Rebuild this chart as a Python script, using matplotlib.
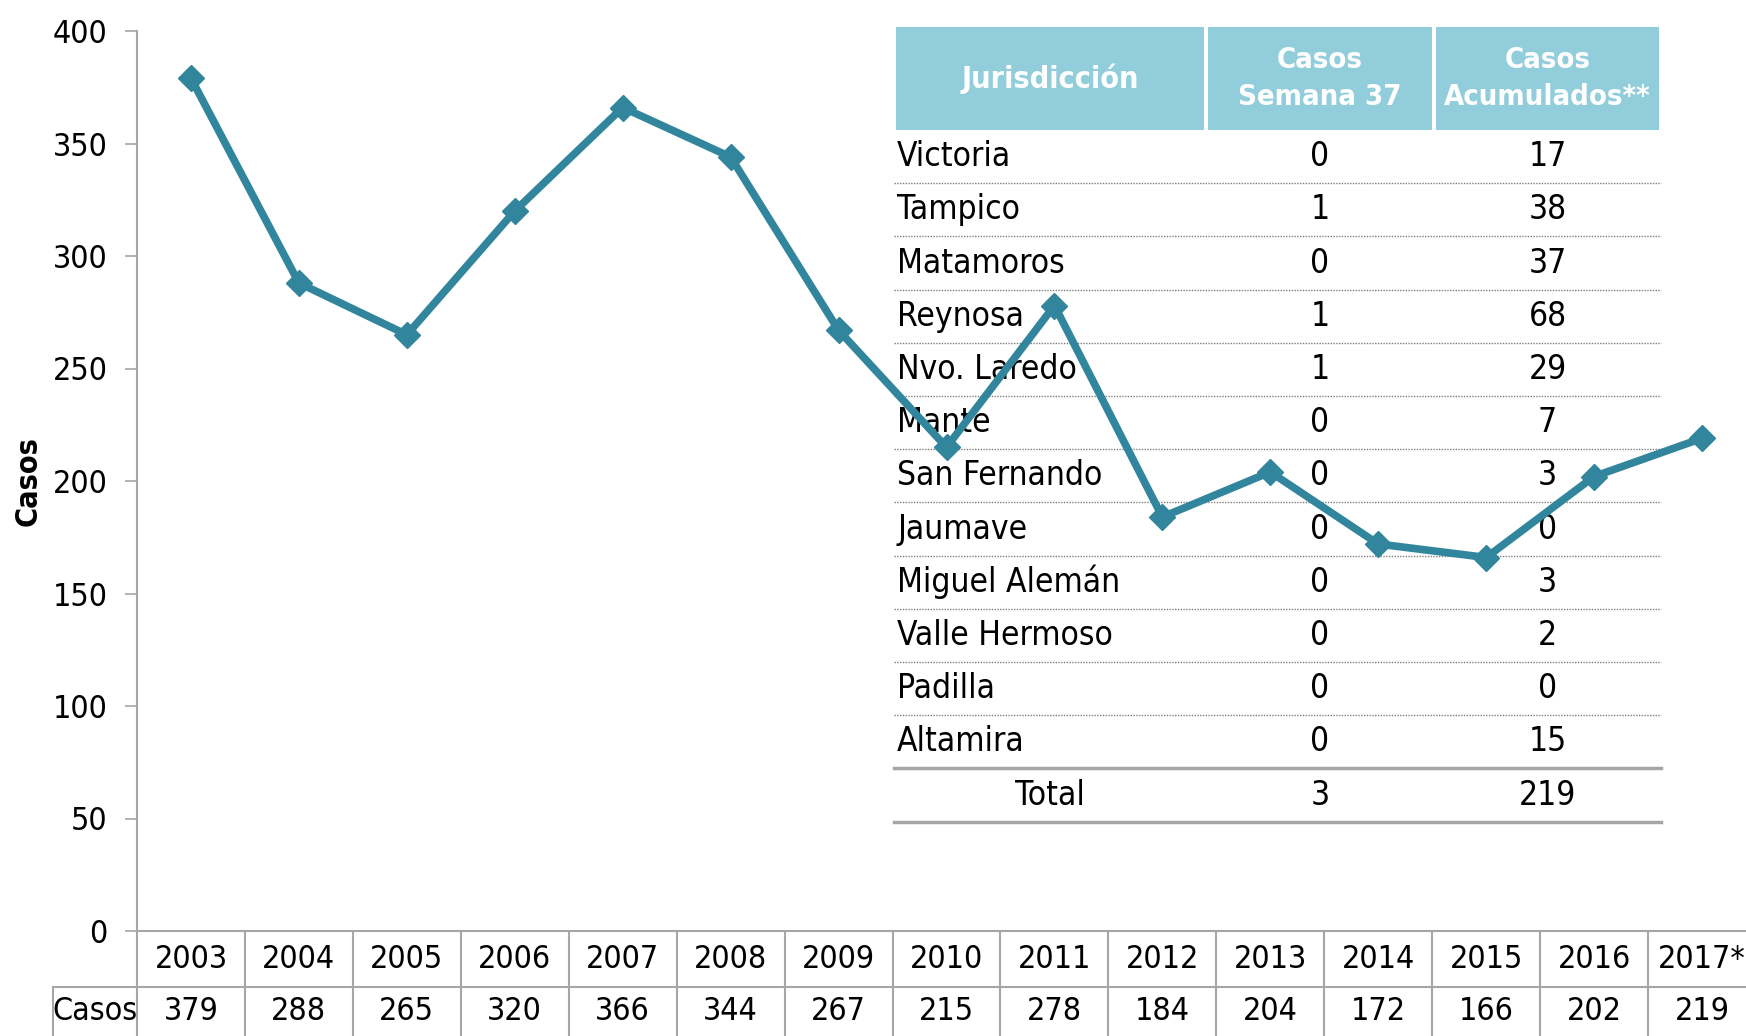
import matplotlib.pyplot as plt
from matplotlib import font_manager
from matplotlib.transforms import blended_transform_factory

# años y casos
YEARS = ["2003", "2004", "2005", "2006", "2007", "2008", "2009", "2010",
         "2011", "2012", "2013", "2014", "2015", "2016", "2017*"]
CASES = [379, 288, 265, 320, 366, 344, 267, 215, 278, 184, 204, 172, 166, 202, 219]

# tabla de jurisdicciones
JURIS = ["Victoria", "Tampico", "Matamoros", "Reynosa", "Nvo. Laredo", "Mante",
         "San Fernando", "Jaumave", "Miguel Alemán", "Valle Hermoso", "Padilla", "Altamira"]
WEEK37 = [0, 1, 0, 1, 1, 0, 0, 0, 0, 0, 0, 0]
ACUM = [17, 38, 37, 68, 29, 7, 3, 0, 3, 2, 0, 15]
TOTAL_WEEK = 3
TOTAL_ACUM = 219

LINE_COLOR = "#31859C"
HEAD_COLOR = "#92CDDC"
GRID_GRAY = "#A6A6A6"

names = [f.name for f in font_manager.fontManager.ttflist]
if "Liberation Sans Narrow" in names:
    plt.rcParams["font.family"] = ["Liberation Sans Narrow", "DejaVu Sans"]
else:
    plt.rcParams["font.family"] = ["DejaVu Sans"]
    plt.rcParams["font.stretch"] = "condensed"

W, H = 1746, 1036
fig = plt.figure(figsize=(W / 100, H / 100), dpi=100)
left, right, top, bottom = 137, 1756, 31, 931
ax = fig.add_axes([left / W, 1 - bottom / H, (right - left) / W, (bottom - top) / H])

x = list(range(len(YEARS)))
ax.plot(x, CASES, color=LINE_COLOR, lw=5.5, marker="D", ms=13, zorder=5, clip_on=False)
ax.set_xlim(-0.5, len(YEARS) - 0.5)
ax.set_ylim(0, 400)
ax.set_yticks(range(0, 401, 50))
ax.tick_params(axis="y", labelsize=23, length=9, width=1.2, color=GRID_GRAY, pad=12)
ax.set_xticks([])
for s in ["top", "right"]:
    ax.spines[s].set_visible(False)
for s in ["left", "bottom"]:
    ax.spines[s].set_color(GRID_GRAY)
    ax.spines[s].set_linewidth(1.5)
fig.text(28 / W, 1 - 481 / H, "Casos", rotation=90, fontsize=22, fontweight="bold",
         ha="center", va="center")

# tabla de datos bajo el eje
tr = blended_transform_factory(ax.transData, fig.transFigure)
row1 = 1 - 931 / H
row2 = 1 - 987 / H
for i in range(len(YEARS) + 1):
    ax.plot([i - 0.5, i - 0.5], [row1, 0], transform=tr, color=GRID_GRAY, lw=1.5, clip_on=False)
for i, (yr, c) in enumerate(zip(YEARS, CASES)):
    ax.text(i, (row1 + row2) / 2, yr, transform=tr, ha="center", va="center", fontsize=23)
    ax.text(i, row2 / 2, str(c), transform=tr, ha="center", va="center", fontsize=23)
fig.add_artist(plt.Line2D([53 / W, 1], [row2, row2], color=GRID_GRAY, lw=1.5))
fig.add_artist(plt.Line2D([53 / W, 53 / W], [row2, 0], color=GRID_GRAY, lw=1.5))
fig.text(95 / W, row2 / 2, "Casos", ha="center", va="center", fontsize=23)

# tabla de jurisdicciones (coordenadas de eje)
def fy(py):
    return (bottom - py) / (bottom - top)

def fx(px):
    return (px - left) / (right - left)

t_left, c1, c2, t_right = fx(894), fx(1206), fx(1434), fx(1661)
head_top, head_bot = fy(27), fy(130)
rh = fy(130) - fy(183.2)
ta = ax.transAxes
gap = 2 / (right - left)
for x0, x1 in [(t_left, c1), (c1, c2), (c2, t_right)]:
    ax.add_patch(plt.Rectangle((x0 + gap, head_bot), x1 - x0 - 2 * gap, head_top - head_bot,
                               transform=ta, facecolor=HEAD_COLOR, edgecolor="none",
                               clip_on=False, zorder=3))
hy = (head_top + head_bot) / 2
ax.text((t_left + c1) / 2, hy, "Jurisdicción", transform=ta, ha="center", va="center",
        fontsize=22, fontweight="bold", color="white", zorder=4)
ax.text((c1 + c2) / 2, hy, "Casos\nSemana 37", transform=ta, ha="center", va="center",
        fontsize=21, fontweight="bold", color="white", zorder=4, linespacing=1.4)
ax.text((c2 + t_right) / 2, hy, "Casos\nAcumulados**", transform=ta, ha="center", va="center",
        fontsize=21, fontweight="bold", color="white", zorder=4, linespacing=1.4)

for k, (name, w, a) in enumerate(zip(JURIS, WEEK37, ACUM)):
    yc = head_bot - (k + 0.5) * rh
    ax.text(t_left + 0.002, yc, name, transform=ta, ha="left", va="center", fontsize=24, zorder=2)
    ax.text((c1 + c2) / 2, yc, str(w), transform=ta, ha="center", va="center", fontsize=24, zorder=2)
    ax.text((c2 + t_right) / 2, yc, str(a), transform=ta, ha="center", va="center", fontsize=24, zorder=2)
    yl = head_bot - (k + 1) * rh
    if k < len(JURIS) - 1:
        ax.plot([t_left, t_right], [yl, yl], transform=ta, color="#7F7F7F", lw=1, ls=(0, (1, 1)),
                zorder=2)
    else:
        ax.plot([t_left, t_right], [yl, yl], transform=ta, color=GRID_GRAY, lw=2.5, zorder=2)
yc = head_bot - (len(JURIS) + 0.5) * rh
ax.text((t_left + c1) / 2, yc, "Total", transform=ta, ha="center", va="center", fontsize=24, zorder=2)
ax.text((c1 + c2) / 2, yc, str(TOTAL_WEEK), transform=ta, ha="center", va="center", fontsize=24, zorder=2)
ax.text((c2 + t_right) / 2, yc, str(TOTAL_ACUM), transform=ta, ha="center", va="center", fontsize=24, zorder=2)
yl = head_bot - (len(JURIS) + 1) * rh
ax.plot([t_left, t_right], [yl, yl], transform=ta, color=GRID_GRAY, lw=2.5, zorder=2)

fig.savefig("out.png", dpi=100)
